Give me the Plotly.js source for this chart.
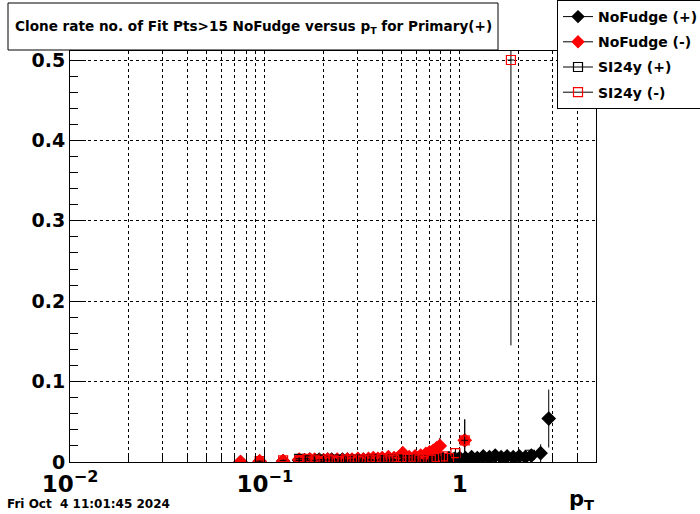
<!DOCTYPE html>
<html>
<head>
<meta charset="utf-8">
<script src="https://cdn.plot.ly/plotly-3.0.1.min.js"></script>
<style>html,body{margin:0;padding:0;background:#fff;}#plot{width:700px;height:514px;}</style>
</head>
<body>
<div id="plot"></div>
<script>
// ---- data ----
const nfPlusPt = [0.075, 0.094, 0.124, 0.15, 0.16, 0.17, 0.18, 0.19, 0.20, 0.21,
  0.22, 0.235, 0.25, 0.265, 0.28, 0.30, 0.32, 0.34, 0.36, 0.38,
  0.40, 0.43, 0.46, 0.49, 0.52, 0.55, 0.59, 0.63, 0.67, 0.72,
  0.77, 0.82, 0.88, 0.94, 1.00, 1.07, 1.15, 1.23, 1.32, 1.42,
  1.52, 1.63, 1.75, 1.88, 2.02, 2.17, 2.33, 2.60, 2.86];
const nfPlusRate = [0, 0, 0.001, 0.002, 0.002, 0.003, 0.002, 0.003, 0.002, 0.003,
  0.003, 0.002, 0.003, 0.003, 0.002, 0.003, 0.003, 0.002, 0.003, 0.003,
  0.004, 0.003, 0.004, 0.003, 0.004, 0.003, 0.004, 0.003, 0.004, 0.003,
  0.004, 0.004, 0.005, 0.004, 0.005, 0.005, 0.006, 0.005, 0.007, 0.006,
  0.008, 0.006, 0.007, 0.006, 0.007, 0.006, 0.008, 0.011, 0.054];
const nfPlusErr = [0, 0, 0.001, 0.002, 0.002, 0.002, 0.002, 0.002, 0.002, 0.002,
  0.002, 0.002, 0.002, 0.002, 0.002, 0.002, 0.002, 0.002, 0.002, 0.002,
  0.002, 0.002, 0.002, 0.002, 0.002, 0.002, 0.002, 0.002, 0.003, 0.003,
  0.003, 0.003, 0.004, 0.004, 0.004, 0.003, 0.003, 0.003, 0.003, 0.003,
  0.004, 0.003, 0.003, 0.003, 0.004, 0.004, 0.005, 0.011, 0.036];

const nfMinusPt = [0.075, 0.094, 0.124, 0.15, 0.16, 0.17, 0.18, 0.19, 0.20, 0.21,
  0.22, 0.235, 0.25, 0.265, 0.28, 0.30, 0.32, 0.34, 0.36, 0.38,
  0.40, 0.43, 0.46, 0.49, 0.51, 0.55, 0.59, 0.63, 0.67, 0.70,
  0.73, 0.76, 0.79, 1.06];
const nfMinusRate = [0, 0.001, 0.001, 0.003, 0.002, 0.003, 0.003, 0.002, 0.002, 0.003,
  0.002, 0.003, 0.002, 0.003, 0.003, 0.004, 0.003, 0.004, 0.005, 0.004,
  0.005, 0.006, 0.005, 0.006, 0.011, 0.006, 0.007, 0.008, 0.010, 0.012,
  0.014, 0.017, 0.020, 0.027];
const nfMinusErr = [0, 0.001, 0.001, 0.002, 0.002, 0.002, 0.002, 0.002, 0.002, 0.002,
  0.002, 0.002, 0.002, 0.002, 0.002, 0.002, 0.002, 0.002, 0.003, 0.003,
  0.003, 0.003, 0.003, 0.003, 0.004, 0.003, 0.004, 0.004, 0.005, 0.005,
  0.006, 0.007, 0.010, 0.026];

const siPlusPt = [0.15, 0.17, 0.19, 0.21, 0.23, 0.25, 0.27, 0.29, 0.31, 0.33,
  0.35, 0.37, 0.39, 0.42, 0.45, 0.48, 0.51, 0.54, 0.58, 0.62,
  0.66, 0.70, 0.75, 0.80, 0.86, 0.92, 0.98, 1.05, 1.12, 1.20,
  1.28, 1.37, 1.46, 1.56, 1.67, 1.79, 1.92, 2.06, 2.29];
const siPlusRate = [0.004, 0.002, 0.003, 0.002, 0.003, 0.002, 0.001, 0.003, 0.002, 0.002,
  0.003, 0.002, 0.003, 0.002, 0.003, 0.002, 0.003, 0.002, 0.003, 0.002,
  0.002, 0.001, 0.003, 0.002, 0.001, 0.002, 0.003, 0.002, 0.001, 0.002,
  0.003, 0.002, 0.001, 0.003, 0.002, 0.004, 0.003, 0.004, 0.009];
const siPlusErr = [0.002, 0.002, 0.002, 0.002, 0.002, 0.002, 0.001, 0.002, 0.002, 0.002,
  0.002, 0.002, 0.002, 0.002, 0.002, 0.002, 0.002, 0.002, 0.002, 0.002,
  0.002, 0.001, 0.002, 0.002, 0.001, 0.002, 0.002, 0.002, 0.001, 0.002,
  0.002, 0.002, 0.001, 0.002, 0.002, 0.003, 0.002, 0.003, 0.006];

const siMinusPt = [0.094, 0.124, 0.15, 0.165, 0.18, 0.195, 0.21, 0.225, 0.24, 0.26,
  0.28, 0.30, 0.32, 0.345, 0.37, 0.40, 0.43, 0.46, 0.50, 0.54,
  0.58, 0.62, 0.66, 0.71, 0.76, 0.82, 0.88, 0.95, 1.06, 1.83];
const siMinusRate = [0.001, 0.002, 0.002, 0.004, 0.002, 0.001, 0.003, 0.002, 0.001, 0.002,
  0.003, 0.001, 0.002, 0.003, 0.002, 0.004, 0.002, 0.003, 0.006, 0.004,
  0.005, 0.003, 0.001, 0.003, 0.006, 0.007, 0.005, 0.011, 0.027, 0.5];
const siMinusErr = [0.001, 0.001, 0.002, 0.002, 0.002, 0.001, 0.002, 0.002, 0.001, 0.002,
  0.002, 0.001, 0.002, 0.002, 0.002, 0.002, 0.002, 0.002, 0.003, 0.003,
  0.003, 0.002, 0.001, 0.002, 0.004, 0.004, 0.004, 0.006, 0.026, 0.355];

const seriesNames = ['NoFudge (+)', 'NoFudge (-)', 'SI24y (+)', 'SI24y (-)'];
const xTickVals = [0.01, 0.1, 1];
const xTickText = ['10<sup>\u22122</sup>', '10<sup>\u22121</sup>', '1'];
const titleText = 'Clone rate no. of Fit Pts>15 NoFudge versus p<sub>T</sub> for Primary(+)';
const dateText = 'Fri Oct  4 11:01:45 2024';

// ---- chart ----
const FONT = 'DejaVu Sans, sans-serif';
function mk(x, y, e, name, color, symbol, size) {
  return {
    x: x, y: y, type: 'scatter', mode: 'markers', name: name, showlegend: false,
    marker: {symbol: symbol, size: size, color: color, line: {color: color, width: 1.2}},
    error_y: {type: 'data', array: e, visible: true, color: '#000', thickness: 1, width: 0},
    error_x: {type: 'percent', value: 4, visible: true, color: '#000', thickness: 1, width: 0},
    cliponaxis: true
  };
}
function leg(name, color, symbol, size, g) {
  return {x: [null], y: [null], type: 'scatter', mode: 'lines+markers', name: name, showlegend: true,
    legendgroup: g,
    line: {color: '#000', width: 1}, marker: {symbol: symbol, size: size, color: color, line: {color: color, width: 1.2}}};
}
const traces = [
  mk(nfPlusPt, nfPlusRate, nfPlusErr, seriesNames[0], '#000000', 'diamond', 10),
  mk(nfMinusPt, nfMinusRate, nfMinusErr, seriesNames[1], '#ff0000', 'diamond', 10),
  mk(siPlusPt, siPlusRate, siPlusErr, seriesNames[2], '#000000', 'square-open', 9),
  mk(siMinusPt, siMinusRate, siMinusErr, seriesNames[3], '#ff0000', 'square-open', 9),
  leg(seriesNames[0], '#000000', 'diamond', 9, 'a'),
  leg(seriesNames[1], '#ff0000', 'diamond', 9, 'b'),
  leg(seriesNames[2], '#000000', 'square-open', 9, 'c'),
  leg(seriesNames[3], '#ff0000', 'square-open', 9, 'd')
];

const L = 70, R = 596, T = 51, B = 462;
const px = v => (v - L) / (R - L);
const py = v => (B - v) / (B - T);

const layout = {
  width: 700, height: 514,
  margin: {l: L, r: 700 - R, t: T, b: 514 - B, pad: 0, autoexpand: false},
  paper_bgcolor: '#ffffff', plot_bgcolor: '#ffffff',
  font: {family: FONT, color: '#000', size: 14},
  showlegend: true,
  legend: {
    x: px(557), y: py(0), xanchor: 'left', yanchor: 'top',
    bgcolor: '#ffffff', bordercolor: '#000', borderwidth: 1,
    font: {family: FONT, size: 14, weight: 'bold', color: '#000'},
    tracegroupgap: 4, itemwidth: 30, traceorder: 'grouped'
  },
  xaxis: {
    type: 'log', range: [Math.log10(0.01), Math.log10(5)],
    tickvals: xTickVals, ticktext: xTickText,
    ticks: 'inside', ticklen: 12, tickwidth: 1, tickcolor: '#000',
    showline: true, linecolor: '#000', linewidth: 1, mirror: true,
    showgrid: true, gridcolor: '#000', gridwidth: 1, griddash: 'dot',
    zeroline: false, ticklabelstandoff: 1,
    tickfont: {family: FONT, size: 23, weight: 'bold'},
    minor: {dtick: 'D1', ticks: 'inside', ticklen: 6, tickcolor: '#000', showgrid: true, gridcolor: '#000', griddash: 'dot', gridwidth: 1}
  },
  yaxis: {
    range: [0, 0.5112],
    tickvals: [0, 0.1, 0.2, 0.3, 0.4, 0.5], ticktext: ['0', '0.1', '0.2', '0.3', '0.4', '0.5'],
    ticks: 'inside', ticklen: 16, tickwidth: 1, tickcolor: '#000',
    showline: true, linecolor: '#000', linewidth: 1, mirror: true,
    showgrid: true, gridcolor: '#000', gridwidth: 1, griddash: 'dot',
    zeroline: false,
    tickfont: {family: FONT, size: 19, weight: 'bold'},
    minor: {dtick: 0.02, ticks: 'inside', ticklen: 8, tickcolor: '#000', showgrid: false}
  },
  shapes: [
    {type: 'rect', xref: 'paper', yref: 'paper', x0: px(8), x1: px(498), y0: py(50), y1: py(3),
     line: {color: '#000', width: 1}, fillcolor: '#ffffff', layer: 'above'}
  ],
  annotations: [
    {xref: 'paper', yref: 'paper', x: px(253), y: py(27), xanchor: 'center', yanchor: 'middle',
     text: titleText, showarrow: false, font: {family: FONT, size: 13.6, weight: 'bold', color: '#000'}},
    {xref: 'paper', yref: 'paper', x: px(5), y: py(504), xanchor: 'left', yanchor: 'middle',
     text: dateText, showarrow: false, font: {family: FONT, size: 12, weight: 'bold', color: '#000'}},
    {xref: 'paper', yref: 'paper', x: px(596), y: py(500), xanchor: 'right', yanchor: 'middle',
     text: 'p<sub>T</sub>', showarrow: false, font: {family: FONT, size: 21, weight: 'bold', color: '#000'}}
  ]
};

Plotly.newPlot('plot', traces, layout, {staticPlot: true, displayModeBar: false});
</script>
</body>
</html>
